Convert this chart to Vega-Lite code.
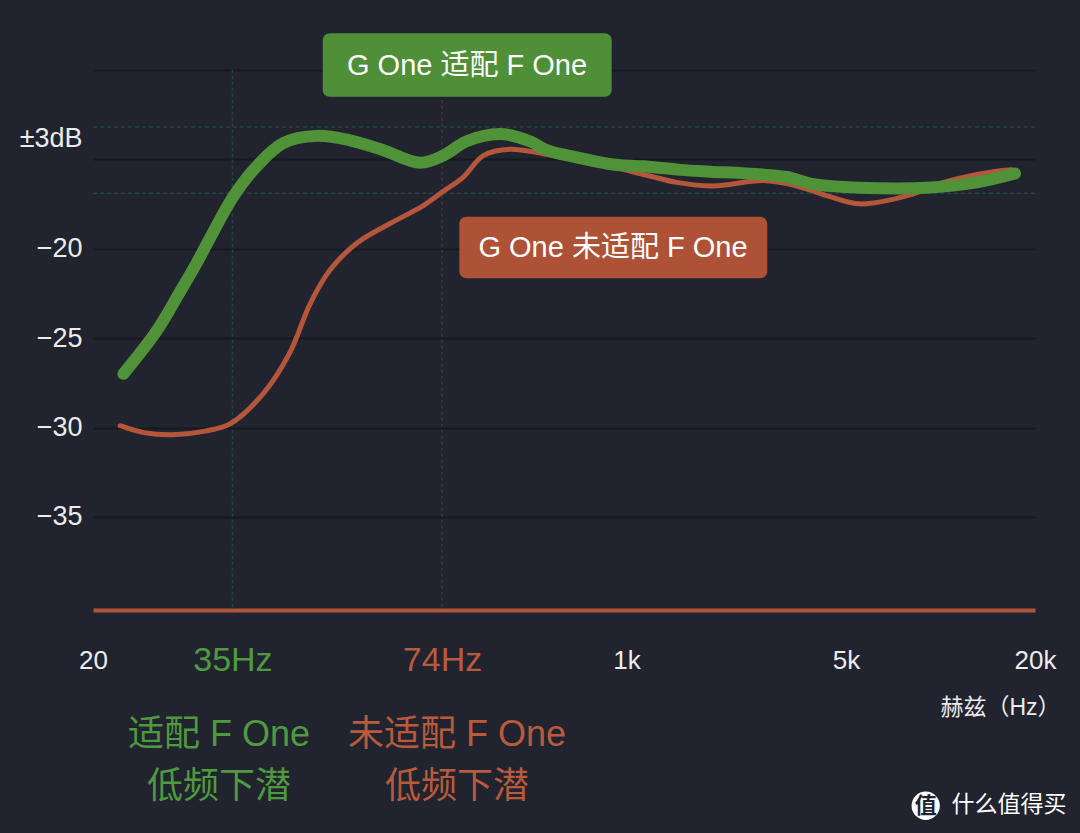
{
  "$schema": "https://vega.github.io/schema/vega-lite/v6.json",
  "width": 942,
  "height": 594,
  "autosize": {"type": "none"},
  "padding": {"left": 93, "top": 16, "right": 45, "bottom": 223},
  "background": "#21232f",
  "config": {"view": {"stroke": null}, "font": "Liberation Sans, Noto Sans CJK SC"},
  "datasets": {
    "curves": [
      {"freq": 25.0, "db": -27.0, "series": "G One 适配 F One"},
      {"freq": 31.9, "db": -24.6, "series": "G One 适配 F One"},
      {"freq": 37.9, "db": -22.4, "series": "G One 适配 F One"},
      {"freq": 42.8, "db": -20.8, "series": "G One 适配 F One"},
      {"freq": 47.2, "db": -19.4, "series": "G One 适配 F One"},
      {"freq": 55.9, "db": -17.1, "series": "G One 适配 F One"},
      {"freq": 66.4, "db": -15.4, "series": "G One 适配 F One"},
      {"freq": 80.7, "db": -14.1, "series": "G One 适配 F One"},
      {"freq": 103.2, "db": -13.7, "series": "G One 适配 F One"},
      {"freq": 131.7, "db": -13.95, "series": "G One 适配 F One"},
      {"freq": 168.1, "db": -14.5, "series": "G One 适配 F One"},
      {"freq": 220, "db": -15.2, "series": "G One 适配 F One"},
      {"freq": 261, "db": -14.8, "series": "G One 适配 F One"},
      {"freq": 309.9, "db": -14.0, "series": "G One 适配 F One"},
      {"freq": 395.7, "db": -13.6, "series": "G One 适配 F One"},
      {"freq": 492.9, "db": -14.0, "series": "G One 适配 F One"},
      {"freq": 557, "db": -14.5, "series": "G One 适配 F One"},
      {"freq": 694, "db": -14.9, "series": "G One 适配 F One"},
      {"freq": 908, "db": -15.3, "series": "G One 适配 F One"},
      {"freq": 1131, "db": -15.4, "series": "G One 适配 F One"},
      {"freq": 1481, "db": -15.6, "series": "G One 适配 F One"},
      {"freq": 1845, "db": -15.7, "series": "G One 适配 F One"},
      {"freq": 2415, "db": -15.8, "series": "G One 适配 F One"},
      {"freq": 3238, "db": -16.0, "series": "G One 适配 F One"},
      {"freq": 3936, "db": -16.4, "series": "G One 适配 F One"},
      {"freq": 5543, "db": -16.6, "series": "G One 适配 F One"},
      {"freq": 9039, "db": -16.6, "series": "G One 适配 F One"},
      {"freq": 13045, "db": -16.3, "series": "G One 适配 F One"},
      {"freq": 17276, "db": -15.8, "series": "G One 适配 F One"},
      {"freq": 24.4, "db": -29.9, "series": "G One 未适配 F One"},
      {"freq": 29.3, "db": -30.3, "series": "G One 未适配 F One"},
      {"freq": 36.0, "db": -30.4, "series": "G One 未适配 F One"},
      {"freq": 45.5, "db": -30.2, "series": "G One 未适配 F One"},
      {"freq": 54.6, "db": -29.8, "series": "G One 未适配 F One"},
      {"freq": 69.7, "db": -28.1, "series": "G One 未适配 F One"},
      {"freq": 84.8, "db": -25.8, "series": "G One 未适配 F One"},
      {"freq": 98.2, "db": -23.1, "series": "G One 未适配 F One"},
      {"freq": 113.7, "db": -21.2, "series": "G One 未适配 F One"},
      {"freq": 138.3, "db": -19.7, "series": "G One 未适配 F One"},
      {"freq": 176.6, "db": -18.6, "series": "G One 未适配 F One"},
      {"freq": 225.4, "db": -17.6, "series": "G One 未适配 F One"},
      {"freq": 261, "db": -16.8, "series": "G One 未适配 F One"},
      {"freq": 302.2, "db": -16.0, "series": "G One 未适配 F One"},
      {"freq": 350, "db": -14.8, "series": "G One 未适配 F One"},
      {"freq": 425.6, "db": -14.45, "series": "G One 未适配 F One"},
      {"freq": 543.6, "db": -14.7, "series": "G One 未适配 F One"},
      {"freq": 886, "db": -15.4, "series": "G One 未适配 F One"},
      {"freq": 1160, "db": -15.9, "series": "G One 未适配 F One"},
      {"freq": 1445, "db": -16.3, "series": "G One 未适配 F One"},
      {"freq": 1890, "db": -16.5, "series": "G One 未适配 F One"},
      {"freq": 2727, "db": -16.2, "series": "G One 未适配 F One"},
      {"freq": 3485, "db": -16.5, "series": "G One 未适配 F One"},
      {"freq": 4448, "db": -17.1, "series": "G One 未适配 F One"},
      {"freq": 5543, "db": -17.5, "series": "G One 未适配 F One"},
      {"freq": 7998, "db": -17.0, "series": "G One 未适配 F One"},
      {"freq": 10210, "db": -16.3, "series": "G One 未适配 F One"},
      {"freq": 14730, "db": -15.7, "series": "G One 未适配 F One"},
      {"freq": 16864, "db": -15.6, "series": "G One 未适配 F One"}
    ],
    "boxes": [
      {"series": "G One 适配 F One", "f1": 107.8, "f2": 897, "d1": -7.97, "d2": -11.51, "fc": 310.6, "dc": -9.77},
      {"series": "G One 未适配 F One", "f1": 293.6, "f2": 2808, "d1": -18.22, "d2": -21.66, "fc": 905.8, "dc": -19.94}
    ],
    "notes": [
      {"text": "适配 F One", "series": "适配", "freq": 50.4, "db": -47.19},
      {"text": "低频下潜", "series": "适配", "freq": 50.4, "db": -50.1},
      {"text": "未适配 F One", "series": "未适配", "freq": 288.6, "db": -47.19},
      {"text": "低频下潜", "series": "未适配", "freq": 288.6, "db": -50.1}
    ]
  },
  "resolve": {"scale": {"color": "independent"}},
  "layer": [
    {
      "data": {"values": [{"freq": 55.6, "db": -13.2}, {"freq": 258.6, "db": -16.9}]},
      "mark": {"type": "rule", "color": "#1d4a42", "strokeDash": [4, 3], "strokeWidth": 1.5},
      "encoding": {
        "y": {
          "field": "db", "type": "quantitative",
          "scale": {"domain": [-40.2, -7], "nice": false, "zero": false},
          "axis": {
            "values": [-10, -13.84, -15, -20, -25, -30, -35],
            "labelExpr": "datum.value == -13.84 ? '±3dB' : (datum.value > -19 ? '' : datum.label)",
            "title": null, "domain": false, "ticks": false,
            "labelPadding": 11, "labelFontSize": 27, "labelColor": "#ececec",
            "grid": true, "gridColor": "#171920", "gridWidth": 2,
            "gridOpacity": {"condition": {"test": "datum.value == -13.84", "value": 0}, "value": 1}
          }
        }
      }
    },
    {
      "data": {"values": [{"freq": 55.6, "series": "适配"}, {"freq": 258.6, "series": "未适配"}]},
      "mark": {"type": "rule", "strokeDash": [3, 3], "strokeWidth": 1.5},
      "encoding": {
        "x": {
          "field": "freq", "type": "quantitative",
          "scale": {"type": "log", "domain": [20, 20000], "nice": false},
          "axis": {
            "values": [20, 55.6, 258.6, 1000, 5000, 20000],
            "labelExpr": "datum.value < 30 ? '20' : datum.value < 100 ? '35Hz' : datum.value < 500 ? '74Hz' : datum.value < 2000 ? '1k' : datum.value < 10000 ? '5k' : '20k'",
            "title": "赫兹（Hz）",
            "titleColor": "#ececec", "titleFontSize": 23, "titleFontWeight": "normal",
            "titleX": 907, "titleY": 97, "titleAlign": "center", "titleBaseline": "middle",
            "domainColor": "#b0553a", "domainWidth": 4,
            "ticks": false, "grid": false,
            "labelFlush": false, "labelOverlap": false,
            "labelPadding": 50, "labelBaseline": "middle",
            "labelFontSize": {"condition": {"test": "datum.value > 40 && datum.value < 500", "value": 34}, "value": 26},
            "labelColor": {"condition": [
              {"test": "datum.value > 40 && datum.value < 100", "value": "#4f9a3e"},
              {"test": "datum.value >= 100 && datum.value < 500", "value": "#b85a3c"}
            ], "value": "#ececec"}
          }
        },
        "y": {"datum": -10, "type": "quantitative"},
        "y2": {"datum": -40.2},
        "color": {"field": "series", "type": "nominal", "scale": {"domain": ["适配", "未适配"], "range": ["#1e4a40", "#4d3430"]}, "legend": null}
      }
    },
    {
      "data": {"name": "curves"},
      "transform": [{"filter": "datum.series == 'G One 未适配 F One'"}],
      "mark": {"type": "line", "interpolate": "catmull-rom", "color": "#b4563a", "strokeWidth": 5, "strokeCap": "round"},
      "encoding": {
        "x": {"field": "freq", "type": "quantitative"},
        "y": {"field": "db", "type": "quantitative"}
      }
    },
    {
      "data": {"name": "curves"},
      "transform": [{"filter": "datum.series == 'G One 适配 F One'"}],
      "mark": {"type": "line", "interpolate": "catmull-rom", "color": "#509238", "strokeWidth": 12, "strokeCap": "round"},
      "encoding": {
        "x": {"field": "freq", "type": "quantitative"},
        "y": {"field": "db", "type": "quantitative"}
      }
    },
    {
      "data": {"name": "boxes"},
      "mark": {"type": "rect", "cornerRadius": 7},
      "encoding": {
        "x": {"field": "f1", "type": "quantitative"},
        "x2": {"field": "f2"},
        "y": {"field": "d1", "type": "quantitative"},
        "y2": {"field": "d2"},
        "color": {"field": "series", "type": "nominal", "scale": {"domain": ["G One 适配 F One", "G One 未适配 F One"], "range": ["#4e8f37", "#ad5236"]}, "legend": null}
      }
    },
    {
      "data": {"name": "boxes"},
      "mark": {"type": "text", "color": "#ffffff", "fontSize": 29, "align": "center", "baseline": "middle"},
      "encoding": {
        "x": {"field": "fc", "type": "quantitative"},
        "y": {"field": "dc", "type": "quantitative"},
        "text": {"field": "series"}
      }
    },
    {
      "data": {"name": "notes"},
      "mark": {"type": "text", "fontSize": 36, "align": "center", "baseline": "middle"},
      "encoding": {
        "x": {"field": "freq", "type": "quantitative"},
        "y": {"field": "db", "type": "quantitative"},
        "text": {"field": "text"},
        "color": {"field": "series", "type": "nominal", "scale": {"domain": ["适配", "未适配"], "range": ["#4f9a3e", "#b85a3c"]}, "legend": null}
      }
    },
    {
      "data": {"values": [{"freq": 8974, "db": -51.14, "logo": "值"}]},
      "layer": [
        {"mark": {"type": "point", "shape": "circle", "filled": true, "color": "#ffffff", "opacity": 1, "size": 800}},
        {"mark": {"type": "text", "color": "#21232f", "fontSize": 22, "fontWeight": "bold", "align": "center", "baseline": "middle"}, "encoding": {"text": {"field": "logo"}}}
      ],
      "encoding": {
        "x": {"field": "freq", "type": "quantitative"},
        "y": {"field": "db", "type": "quantitative"}
      }
    },
    {
      "data": {"values": [{"freq": 16527, "db": -51.1, "brand": "什么值得买"}]},
      "mark": {"type": "text", "color": "#ffffff", "fontSize": 23, "align": "center", "baseline": "middle"},
      "encoding": {
        "x": {"field": "freq", "type": "quantitative"},
        "y": {"field": "db", "type": "quantitative"},
        "text": {"field": "brand"}
      }
    }
  ]
}
